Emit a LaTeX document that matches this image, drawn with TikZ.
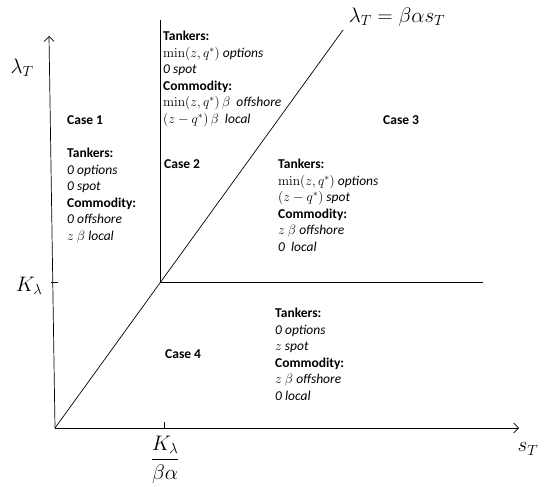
\documentclass[tikz,border=0pt]{standalone}
\usepackage{fix-cm}
\usepackage{amsmath}
\usepackage[no-math]{fontspec}
\setmainfont{Carlito}
\usetikzlibrary{arrows.meta, positioning}

\begin{document}
\begin{tikzpicture}[
    x=1pt, y=-1pt,
    axis/.style={line width=0.7pt, -{Straight Barb[length=5pt, width=10pt]}},
    border/.style={line width=0.7pt},
    casebox/.style={font=\fontsize{13.5}{16}\selectfont\bfseries, anchor=base west, inner sep=0pt},
    rulebox/.style={font=\fontsize{13.5}{16.5}\selectfont, align=left, anchor=north west, inner sep=0pt},
    biglabel/.style={font=\fontsize{21}{25}\selectfont, inner sep=0pt},
  ]
  \useasboundingbox (0,0) rectangle (549,487);

  % axes and break points
  \coordinate (origin) at (55,428);
  \coordinate (ytop) at (49,36);
  \coordinate (xend) at (519,428);
  \coordinate (kink) at (160,282);
  \coordinate (vtop) at (160,20);
  \coordinate (hend) at (483,282);
  \coordinate (dtop) at (343,30);
  \coordinate (ktick) at (53,282);
  \coordinate (stick) at (164,428);

  \draw[axis] (origin) -- (ytop);
  \draw[axis] (origin) -- (xend);
  \draw[border] (origin) -- (dtop);
  \draw[border] (kink) -- (vtop);
  \draw[border] (kink) -- (hend);
  \draw[border] ([xshift=-2pt]ktick) -- ([xshift=5pt]ktick);
  \draw[border] (stick) -- ([yshift=6pt]stick);

  % axis labels
  \node[biglabel] (lamlabel) at (22,68) {$\lambda_T$};
  \node[biglabel] (klabel) at (29,286) {$K_\lambda$};
  \node[biglabel] (slabel) at (528,449) {$s_T$};
  \node[biglabel] (fraclabel) at (165,460) {$\dfrac{K_\lambda}{\beta\alpha}$};
  \node[biglabel] (raylabel) at (397,17) {$\lambda_T = \beta\alpha s_T$};

  % the four regions
  \node[casebox] (case1) at (67,124) {Case 1};
  \node[rulebox] (rule1) at (67,148) {\textbf{Tankers:}\\
    \textit{0 options}\\
    \textit{0 spot}\\
    \textbf{Commodity:}\\
    \textit{0 offshore}\\
    $z$ $\beta$ \textit{local}};

  \node[casebox] (case2) at (164,168) {Case 2};
  \node[rulebox] (rule2) at (163,31) {\textbf{Tankers:}\\
    $\min(z,q^*)$ \textit{options}\\
    \textit{0 spot}\\
    \textbf{Commodity:}\\
    $\min(z,q^*)\,\beta$ \ \textit{offshore}\\
    $(z-q^*)\,\beta$ \ \textit{local}};

  \node[casebox] (case3) at (383,124) {Case 3};
  \node[rulebox] (rule3) at (278,159) {\textbf{Tankers:}\\
    $\min(z,q^*)$ \textit{options}\\
    $(z-q^*)$ \textit{spot}\\
    \textbf{Commodity:}\\
    $z$ $\beta$ \textit{offshore}\\
    \textit{0 \ local}};

  \node[casebox] (case4) at (165,358) {Case 4};
  \node[rulebox] (rule4) at (275,308) {\textbf{Tankers:}\\
    \textit{0 options}\\
    $z$ \textit{spot}\\
    \textbf{Commodity:}\\
    $z$ $\beta$ \textit{offshore}\\
    \textit{0 local}};
\end{tikzpicture}
\end{document}
